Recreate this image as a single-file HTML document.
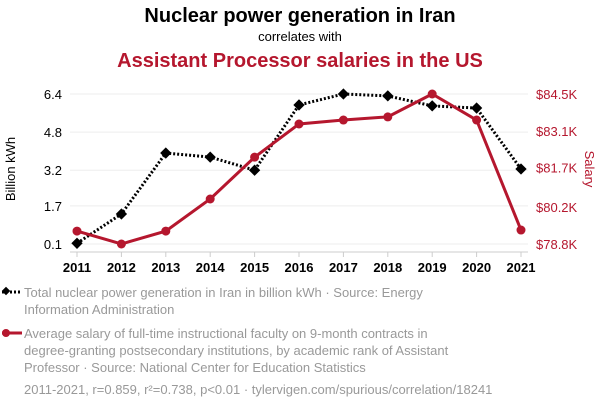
<!DOCTYPE html>
<html><head><meta charset="utf-8"><style>
body{margin:0;background:#fff;font-family:"Liberation Sans",sans-serif;}
svg{display:block}
</style></head><body>
<svg id="c" width="600" height="408">
<text x="300" y="22" text-anchor="middle" font-size="20" font-weight="bold" fill="#000">Nuclear power generation in Iran</text>
<text x="300" y="41" text-anchor="middle" font-size="13" fill="#000">correlates with</text>
<text x="300" y="67" text-anchor="middle" font-size="20" font-weight="bold" fill="#b5172e">Assistant Processor salaries in the US</text>
<text transform="translate(15,169) rotate(-90)" text-anchor="middle" font-size="13" fill="#000">Billion kWh</text>
<text transform="translate(585,169) rotate(90)" text-anchor="middle" font-size="13" fill="#b5172e">Salary</text>
<g id="grid"></g><g id="marks"></g><g id="axes"></g>
<g>
<line x1="2" y1="292" x2="22" y2="292" stroke="#000" stroke-width="3" stroke-dasharray="2,2"/>
<rect x="3" y="288" width="6" height="6" transform="rotate(45 6 291)" fill="#000"/>
<text x="24" y="297" font-size="13" fill="#999">Total nuclear power generation in Iran in billion kWh · Source: Energy</text>
<text x="24" y="314" font-size="13" fill="#999">Information Administration</text>
</g>
<g>
<line x1="2" y1="333" x2="22" y2="333" stroke="#b5172e" stroke-width="3"/>
<circle cx="6" cy="333" r="4" fill="#b5172e"/>
<text x="24" y="338" font-size="13" fill="#999">Average salary of full-time instructional faculty on 9-month contracts in</text>
<text x="24" y="355" font-size="13" fill="#999">degree-granting postsecondary institutions, by academic rank of Assistant</text>
<text x="24" y="372" font-size="13" fill="#999">Professor · Source: National Center for Education Statistics</text>
</g>
<text x="24" y="394" font-size="13" fill="#999">2011-2021, r=0.859, r²=0.738, p&lt;0.01 · tylervigen.com/spurious/correlation/18241</text>
</svg>
<script>
const years=[2011,2012,2013,2014,2015,2016,2017,2018,2019,2020,2021];
const nuclear=[0.13,1.36,3.92,3.75,3.2,5.94,6.4,6.32,5.9,5.81,3.25];
const salary=[79.29,78.8,79.29,80.51,82.1,83.36,83.51,83.63,84.5,83.51,79.33];
const leftTicks=[0.1,1.7,3.2,4.8,6.4];
const rightTicks=[78.8,80.2,81.7,83.1,84.5];
const NS="http://www.w3.org/2000/svg";
const x=v=>77+(v-2011)*(521-77)/10;
const yL=v=>244-(v-0.1)*150/6.3;
const yR=v=>244-(v-78.8)*150/5.7;
function mk(t,a,p){const e=document.createElementNS(NS,t);for(const k in a)e.setAttribute(k,a[k]);p.appendChild(e);return e;}
const grid=document.getElementById('grid'),marks=document.getElementById('marks'),axes=document.getElementById('axes');
leftTicks.forEach((t,i)=>{
 const g=mk('line',{x1:70,x2:528,y1:yL(t),y2:yL(t),stroke:'#eee'},grid);
 
 
 const l=mk('text',{x:62,y:yL(t)+5,'text-anchor':'end','font-size':13,fill:'#000'},axes);l.textContent=t.toFixed(1);
 
 
});
rightTicks.forEach(t=>{
 const l=mk('text',{x:536,y:yR(t)+5,'font-size':13,fill:'#b5172e'},axes);l.textContent='$'+t.toFixed(1)+'K';
 
 
});
const base=mk('line',{x1:70,x2:528,y1:252,y2:252,stroke:'#ccc'},axes);


years.forEach(yr=>{
 const tk=mk('line',{x1:x(yr),x2:x(yr),y1:252,y2:257,stroke:'#ccc'},axes);
 
 
 const l=mk('text',{x:x(yr),y:272,'text-anchor':'middle','font-size':13,'font-weight':'bold',fill:'#000'},axes);l.textContent=yr;
 
 
});
const p1=mk('polyline',{points:years.map((y,i)=>x(y)+','+yL(nuclear[i])).join(' '),fill:'none',stroke:'#000','stroke-width':3,'stroke-dasharray':'2,2'},marks);


const p2=mk('polyline',{points:years.map((y,i)=>x(y)+','+yR(salary[i])).join(' '),fill:'none',stroke:'#b5172e','stroke-width':3},marks);


years.forEach((y,i)=>{
 const cx=x(y),cy=yL(nuclear[i]);
 const d=mk('rect',{x:cx-4,y:cy-4,width:8,height:8,fill:'#000',transform:`rotate(45 ${cx} ${cy})`},marks);
 
 
 const c=mk('circle',{cx:cx,cy:yR(salary[i]),r:4.5,fill:'#b5172e'},marks);
 
 
});
</script>
</body></html>
